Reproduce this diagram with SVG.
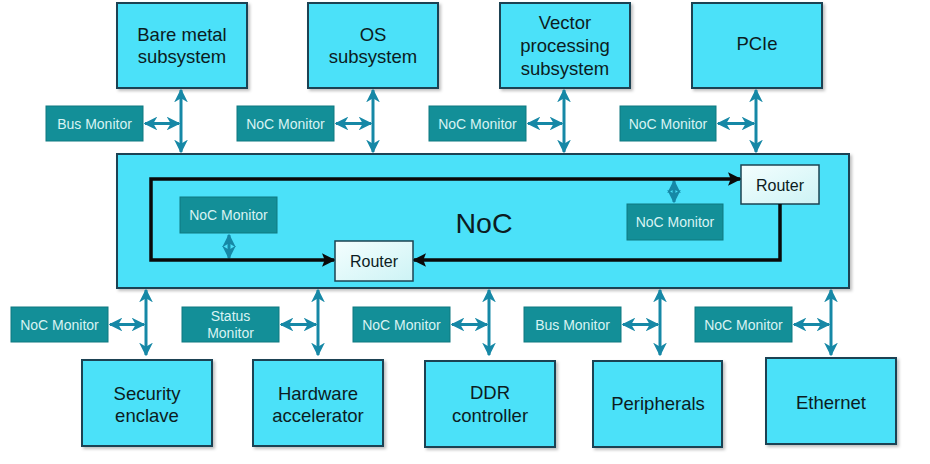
<svg xmlns="http://www.w3.org/2000/svg" width="930" height="464" viewBox="0 0 930 464">
<defs>
<style>
.box{fill:#4ce1f9;stroke:#1d4352;stroke-width:2}
.mon{fill:#138f98;stroke:#0f7880;stroke-width:1}
.lbl{font-family:"Liberation Sans",Arial,sans-serif;font-size:18.5px;fill:#0c1c22;text-anchor:middle}
.mt{font-family:"Liberation Sans",Arial,sans-serif;font-size:14px;fill:#d8f3f3;text-anchor:middle}
.rtt{font-family:"Liberation Sans",Arial,sans-serif;font-size:16px;fill:#0c1c22;text-anchor:middle}
.tl{stroke:#1688a6;stroke-width:3;fill:none;marker-start:url(#ta);marker-end:url(#ta)}
.bl{stroke:#0a0a0a;stroke-width:3.5;fill:none;marker-start:url(#ba);marker-end:url(#ba)}
.bl1{stroke:#0a0a0a;stroke-width:3.5;fill:none;marker-end:url(#ba)}
.rt{fill:url(#rg);stroke:#1d4352;stroke-width:1.5}
</style>
<marker id="ta" viewBox="0 0 10 10" refX="9" refY="5" markerWidth="4.6" markerHeight="4.6" orient="auto-start-reverse" markerUnits="strokeWidth">
<path d="M0,0 L10,5 L0,10 L3,5 z" fill="#1688a6"/>
</marker>
<marker id="ba" viewBox="0 0 10 10" refX="9" refY="5" markerWidth="3.8" markerHeight="3.8" orient="auto-start-reverse" markerUnits="strokeWidth">
<path d="M0,0 L10,5 L0,10 L2,5 z" fill="#0a0a0a"/>
</marker>
<linearGradient id="rg" x1="0" y1="0" x2="1" y2="1">
<stop offset="0" stop-color="#f4fefe"/>
<stop offset="1" stop-color="#cdf3f5"/>
</linearGradient>
<filter id="sh" x="-5%" y="-5%" width="115%" height="115%">
<feDropShadow dx="2" dy="2" stdDeviation="1.5" flood-color="#000" flood-opacity="0.25"/>
</filter>
</defs>
<rect width="930" height="464" fill="#ffffff"/>

<g id="noc">
<rect class="box" x="117" y="154" width="732" height="134" filter="url(#sh)"/>
<text x="484" y="233" font-family="Liberation Sans,Arial,sans-serif" font-size="28.5" fill="#0c1c22" text-anchor="middle">NoC</text>
</g>

<g id="bare-metal"><rect class="box" x="117" y="3" width="130" height="85" filter="url(#sh)"/><text class="lbl" x="182" y="41">Bare metal</text><text class="lbl" x="182" y="63">subsystem</text></g>
<g id="os"><rect class="box" x="308" y="3" width="130" height="85" filter="url(#sh)"/><text class="lbl" x="373" y="41">OS</text><text class="lbl" x="373" y="63">subsystem</text></g>
<g id="vector"><rect class="box" x="500" y="3" width="130" height="85" filter="url(#sh)"/><text class="lbl" x="565" y="29">Vector</text><text class="lbl" x="565" y="52">processing</text><text class="lbl" x="565" y="75">subsystem</text></g>
<g id="pcie"><rect class="box" x="692" y="3" width="130" height="85" filter="url(#sh)"/><text class="lbl" x="757" y="50">PCIe</text></g>

<g id="security"><rect class="box" x="82" y="360" width="130" height="86" filter="url(#sh)"/><text class="lbl" x="147" y="400">Security</text><text class="lbl" x="147" y="422">enclave</text></g>
<g id="hardware"><rect class="box" x="253" y="360" width="130" height="86" filter="url(#sh)"/><text class="lbl" x="318" y="400">Hardware</text><text class="lbl" x="318" y="422">accelerator</text></g>
<g id="ddr"><rect class="box" x="425" y="361" width="130" height="86" filter="url(#sh)"/><text class="lbl" x="490" y="399">DDR</text><text class="lbl" x="490" y="422">controller</text></g>
<g id="peripherals"><rect class="box" x="593" y="361" width="129" height="86" filter="url(#sh)"/><text class="lbl" x="658" y="410">Peripherals</text></g>
<g id="ethernet"><rect class="box" x="766" y="358" width="130" height="86" filter="url(#sh)"/><text class="lbl" x="831" y="409">Ethernet</text></g>

<g id="mon-top-1"><rect class="mon" x="46" y="106" width="97" height="35"/><text class="mt" x="94.5" y="128.5">Bus Monitor</text></g>
<g id="mon-top-2"><rect class="mon" x="237" y="106" width="97" height="35"/><text class="mt" x="285.5" y="128.5">NoC Monitor</text></g>
<g id="mon-top-3"><rect class="mon" x="429" y="106" width="97" height="35"/><text class="mt" x="477.5" y="128.5">NoC Monitor</text></g>
<g id="mon-top-4"><rect class="mon" x="620" y="106" width="96" height="35"/><text class="mt" x="668" y="128.5">NoC Monitor</text></g>

<g id="mon-bot-1"><rect class="mon" x="11" y="307" width="97" height="35"/><text class="mt" x="59.5" y="329.5">NoC Monitor</text></g>
<g id="mon-bot-2"><rect class="mon" x="182" y="307" width="97" height="35"/><text class="mt" x="230.5" y="321">Status</text><text class="mt" x="230.5" y="338">Monitor</text></g>
<g id="mon-bot-3"><rect class="mon" x="353" y="307" width="97" height="35"/><text class="mt" x="401.5" y="329.5">NoC Monitor</text></g>
<g id="mon-bot-4"><rect class="mon" x="524" y="307" width="97" height="35"/><text class="mt" x="572.5" y="329.5">Bus Monitor</text></g>
<g id="mon-bot-5"><rect class="mon" x="695" y="307" width="97" height="35"/><text class="mt" x="743.5" y="329.5">NoC Monitor</text></g>

<g id="mon-in-1"><rect class="mon" x="180" y="197" width="97" height="36" stroke="#0b5e66"/><text class="mt" x="228.5" y="220">NoC Monitor</text></g>
<g id="mon-in-2"><rect class="mon" x="627" y="204" width="96" height="36" stroke="#0b5e66"/><text class="mt" x="675" y="227">NoC Monitor</text></g>

<g id="router-1"><rect class="rt" x="335" y="241" width="78" height="40"/><text class="rtt" x="374" y="266.5">Router</text></g>
<g id="router-2"><rect class="rt" x="741" y="165" width="78" height="39"/><text class="rtt" x="780" y="190.5">Router</text></g>

<g id="connectors">
<path class="tl" d="M181,90 V152"/>
<path class="tl" d="M373,90 V152"/>
<path class="tl" d="M564,90 V152"/>
<path class="tl" d="M756,90 V152"/>
<path class="tl" d="M145,123.5 H179"/>
<path class="tl" d="M336,123.5 H371"/>
<path class="tl" d="M528,123.5 H562"/>
<path class="tl" d="M718,123.5 H754"/>

<path class="tl" d="M146,290 V355"/>
<path class="tl" d="M318,290 V355"/>
<path class="tl" d="M489,290 V355"/>
<path class="tl" d="M660,290 V355"/>
<path class="tl" d="M831,290 V355"/>
<path class="tl" d="M110,324.5 H144"/>
<path class="tl" d="M281,324.5 H316"/>
<path class="tl" d="M452,324.5 H487"/>
<path class="tl" d="M623,324.5 H658"/>
<path class="tl" d="M794,324.5 H829"/>

<path class="tl" d="M229,235 V258"/>
<path class="tl" d="M674,181 V202"/>

<path class="bl" d="M334,260 H151 V179 H740"/>
<path class="bl1" d="M780,204 V260 H414"/>
</g>
</svg>
